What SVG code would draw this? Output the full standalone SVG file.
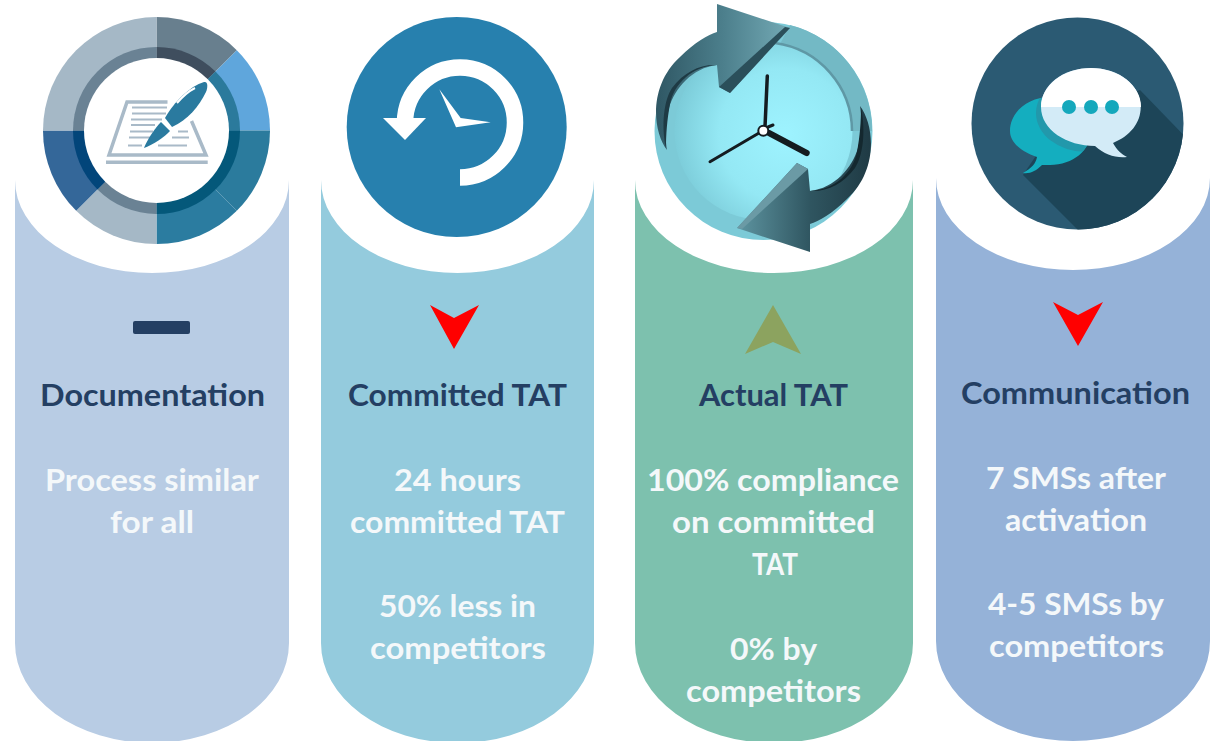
<svg xmlns="http://www.w3.org/2000/svg" width="1210" height="741" viewBox="0 0 1210 741">
<style>
text{font-family:Lato,"Liberation Sans",sans-serif;font-weight:700;font-size:30px;text-anchor:middle}
.h{fill:#243f63}
.b{fill:#f4f8fa}
.pl{stroke:#a9bac8;stroke-width:2;fill:none}
</style>
<defs>
<radialGradient id="sph" cx="0.62" cy="0.52" r="0.62"><stop offset="0" stop-color="#9ef3ff"/><stop offset="0.6" stop-color="#94e8f4"/><stop offset="1" stop-color="#7cccd9"/></radialGradient>
<linearGradient id="arw" x1="0" y1="0" x2="1" y2="0"><stop offset="0" stop-color="#2f5764"/><stop offset="0.5" stop-color="#4c7f8c"/><stop offset="1" stop-color="#74aab5"/></linearGradient>
<linearGradient id="arw2" x1="0" y1="0" x2="1" y2="0"><stop offset="0" stop-color="#1f3a44"/><stop offset="0.45" stop-color="#2f5560"/><stop offset="1" stop-color="#5e95a1"/></linearGradient>
<clipPath id="c4"><circle cx="1077.500" cy="123.500" r="106"/></clipPath>
<clipPath id="bt"><rect x="1030" y="60" width="120" height="47"/></clipPath>
<clipPath id="teal"><ellipse cx="1050" cy="131" rx="41" ry="34"/></clipPath>
</defs>
<rect width="1210" height="741" fill="#fff"/>

<g id="documentation">
<path d="M15,180A137,93 0 0 0 289,180V643A137,100 0 0 1 15,643Z" fill="#b8cce4"/>
<path d="M156.500,130.500V17A113.500,113.500 0 0 1 236.800,50.200Z" fill="#687f8e"/>
<path d="M156.500,130.500L236.800,50.200A113.500,113.500 0 0 1 270,130.500Z" fill="#5fa6dc"/>
<path d="M156.500,130.500H270A113.500,113.500 0 0 1 236.800,210.800Z" fill="#2b7b9d"/>
<path d="M156.500,130.500L236.800,210.800A113.500,113.500 0 0 1 156.500,244Z" fill="#2b7ca0"/>
<path d="M156.500,130.500V244A113.500,113.500 0 0 1 76.200,210.800Z" fill="#a5b8c6"/>
<path d="M156.500,130.500L76.200,210.800A113.500,113.500 0 0 1 43,130.500Z" fill="#346799"/>
<path d="M156.500,130.500H43A113.500,113.500 0 0 1 156.500,17Z" fill="#a5b8c6"/>
<path d="M156.500,130.500V47A83.500,83.500 0 0 1 215.500,71.500Z" fill="#3f4e5e"/>
<path d="M156.500,130.500L215.500,71.500A83.500,83.500 0 0 1 240,130.500Z" fill="#2b7a9c"/>
<path d="M156.500,130.500H240A83.500,83.500 0 0 1 156.500,214Z" fill="#04587a"/>
<path d="M156.500,130.500V214A83.500,83.500 0 0 1 97.500,189.500Z" fill="#6a8294"/>
<path d="M156.500,130.500L97.500,189.500A83.500,83.500 0 0 1 73,130.500Z" fill="#02457a"/>
<path d="M156.500,130.500H73A83.500,83.500 0 0 1 156.500,47Z" fill="#6a8294"/>
<circle cx="156.500" cy="130.500" r="72.500" fill="#fff"/>
<path d="M167.500,102H127L109,155H206L191.500,121" fill="none" stroke="#a9bac8" stroke-width="3.500"/>
<rect x="106" y="160.500" width="101.700" height="3.500" fill="#a9bac8"/>
<path class="pl" d="M132,107.500H167M132,113.500H166M131,119.500H162M131,125H155M130,131.500H153M178,131.500H188M129,137.500H150M172,137.500H189M128,145.500H142M158,145.500H187"/>
<path d="M165,118C174,102 190,86 204,82C208,81 208,87 206,92C199,106 188,120 172,127Z" fill="#2a7a9f"/>
<path d="M161,122L170,131C165,137 152,145 144,148C147,140 155,128 161,122Z" fill="#2a7a9f"/>
<path d="M177,103C183,96 189,91 195,88" fill="none" stroke="#fff" stroke-width="2"/>
<rect x="133" y="321" width="57" height="13" rx="2" fill="#243f63"/>
<text class="h" x="152.500" y="406" textLength="225" lengthAdjust="spacingAndGlyphs">Documentation</text>
<text class="b" x="152" y="491" textLength="214" lengthAdjust="spacingAndGlyphs">Process similar</text>
<text class="b" x="152" y="533" textLength="84" lengthAdjust="spacingAndGlyphs">for all</text>
</g>

<g id="committed-tat">
<path d="M321,180A136.500,93 0 0 0 594,180V643A136.500,100 0 0 1 321,643Z" fill="#94cbdd"/>
<circle cx="456.700" cy="127" r="110" fill="#2780ae"/>
<path d="M460,177.500A55,55 0 1 0 405,122" fill="none" stroke="#fff" stroke-width="16.500"/>
<polygon points="383,118 426,118 405,140" fill="#fff"/>
<polygon points="439.300,89.300 460.700,118 490.700,122.300 456,127.300" fill="#fff"/>
<polygon points="430,305 454,318 479,305 454,349" fill="#ff0000"/>
<text class="h" x="457.500" y="406" textLength="219" lengthAdjust="spacingAndGlyphs">Committed TAT</text>
<text class="b" x="457.500" y="491" textLength="127" lengthAdjust="spacingAndGlyphs">24 hours</text>
<text class="b" x="457.500" y="533" textLength="215" lengthAdjust="spacingAndGlyphs">committed TAT</text>
<text class="b" x="457.500" y="617" textLength="157" lengthAdjust="spacingAndGlyphs">50% less in</text>
<text class="b" x="458" y="659" textLength="176" lengthAdjust="spacingAndGlyphs">competitors</text>
</g>

<g id="actual-tat">
<path d="M635,180A139,93 0 0 0 913,180V643A139,100 0 0 1 635,643Z" fill="#7dc1ae"/>
<circle cx="763.500" cy="131" r="109" fill="#7ccad7"/>
<path d="M790,25A109,109 0 0 1 872,131H852A89,89 0 0 0 780,44Z" fill="#73b9c5"/>
<circle cx="763.500" cy="131" r="89" fill="url(#sph)"/>
<path d="M775,43A89,89 0 0 1 852,131" fill="none" stroke="#5f98a5" stroke-width="2.500"/>
<g id="arrow-top">
<path d="M717,4L790,28L730,93L719,87L717,65C692,68 675,88 669,108C665,123 665,138 667,150C652,130 649,85 680,57C695,42 708,35 717,32Z" fill="url(#arw)"/>
<polygon points="785,27 790,28 730,93 719,87" fill="#2b4f5a"/>
<path d="M717,65C692,66 674,84 670,104C667,120 666,135 666,148C661,125 664,100 672,88C684,72 700,64 717,65Z" fill="#1e3a44"/>
</g>
<g id="arrow-bottom" transform="rotate(180 763.500 128)">
<path d="M717,4L790,28L730,93L719,87L717,65C692,68 675,88 669,108C665,123 665,138 667,150C652,130 649,85 680,57C695,42 708,35 717,32Z" fill="url(#arw2)"/>
<polygon points="785,27 790,28 730,93 719,87" fill="#6b9aa5"/>
<path d="M717,65C692,66 674,84 670,104C667,120 666,135 666,148C661,125 664,100 672,88C684,72 700,64 717,65Z" fill="#14282f"/>
</g>
<g stroke="#141c20" stroke-linecap="round" fill="none">
<path d="M767.300,76L765,127" stroke-width="3.500"/>
<path d="M759,133L710,161.700" stroke-width="3"/>
<path d="M769,133L806.700,153" stroke-width="6"/>
<path d="M768,127L773,125" stroke-width="3"/>
</g>
<circle cx="763.300" cy="130.700" r="5" fill="#fff" stroke="#141c20" stroke-width="2"/>
<polygon points="773,305 745,354 773,342 801,354" fill="#8ca35f"/>
<text class="h" x="773.500" y="406" textLength="149" lengthAdjust="spacingAndGlyphs">Actual TAT</text>
<text class="b" x="773" y="491" textLength="252" lengthAdjust="spacingAndGlyphs">100% compliance</text>
<text class="b" x="773.500" y="533" textLength="203" lengthAdjust="spacingAndGlyphs">on committed</text>
<text class="b" x="775" y="575" textLength="46" lengthAdjust="spacingAndGlyphs">TAT</text>
<text class="b" x="773.500" y="660" textLength="87" lengthAdjust="spacingAndGlyphs">0% by</text>
<text class="b" x="773.500" y="702" textLength="175" lengthAdjust="spacingAndGlyphs">competitors</text>
</g>

<g id="communication">
<path d="M936,178A137,92 0 0 0 1210,178V641A137,100 0 0 1 936,641Z" fill="#95b2d8"/>
<circle cx="1077.500" cy="123.500" r="106" fill="#2b5a73"/>
<polygon points="1140,90 1200,152 1200,260 1110,262 1023,175 1060,120" fill="#1d4558" clip-path="url(#c4)"/>
<path d="M1023,173C1032,168 1036,163 1037,157C1020,151 1010,142 1010,131C1010,112 1028,97 1050,97C1073,97 1091,112 1091,131C1091,150 1073,165 1050,165C1045,165 1043,165 1042,165C1036,171 1030,174 1023,173Z" fill="#14aebf"/>
<ellipse cx="1086" cy="113" rx="50" ry="39" fill="#2298ab" clip-path="url(#teal)"/>
<path d="M1127,157C1115,158 1105,155 1095,146C1067,146 1041,130 1041,107C1041,85 1063,68 1091,68C1119,68 1140.700,85 1140.700,107C1140.700,123 1130,136 1113,143C1117,150 1121,154 1127,157Z" fill="#d3ebf7"/>
<ellipse cx="1091" cy="107" rx="50" ry="39" fill="#fff" clip-path="url(#bt)"/>
<circle cx="1069" cy="107" r="7" fill="#14a8bc"/>
<circle cx="1091" cy="107" r="7" fill="#14a8bc"/>
<circle cx="1112" cy="107" r="7" fill="#14a8bc"/>
<polygon points="1053,302 1078,315 1103,302 1078,346" fill="#ff0000"/>
<text class="h" x="1075.500" y="404" textLength="229" lengthAdjust="spacingAndGlyphs">Communication</text>
<text class="b" x="1076" y="489" textLength="180" lengthAdjust="spacingAndGlyphs">7 SMSs after</text>
<text class="b" x="1076" y="531" textLength="142" lengthAdjust="spacingAndGlyphs">activation</text>
<text class="b" x="1076" y="615" textLength="176" lengthAdjust="spacingAndGlyphs">4-5 SMSs by</text>
<text class="b" x="1076.500" y="657" textLength="175" lengthAdjust="spacingAndGlyphs">competitors</text>
</g>
</svg>
